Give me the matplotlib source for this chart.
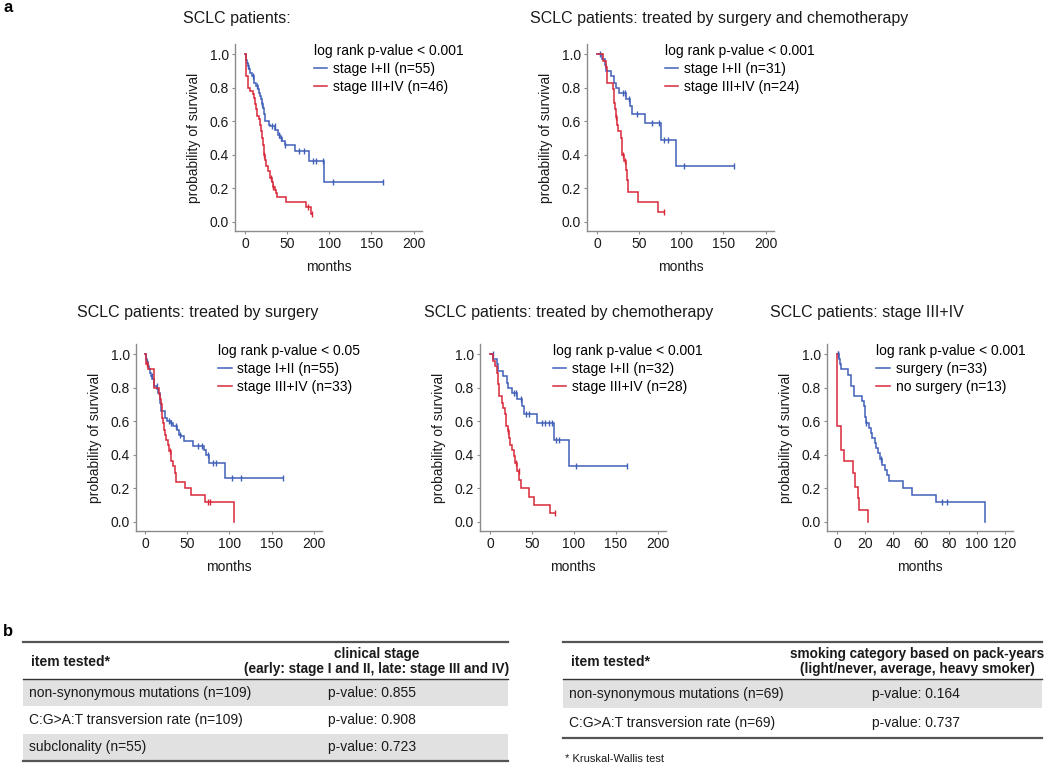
import numpy as np
from matplotlib import pyplot as plt
from matplotlib import rc
from matplotlib.patches import Rectangle

rc('font', family='Liberation Sans', size=9.5)

BLUE = '#4160b8'
RED = '#d8283a'
SPINE = '#8c8c8c'
TXT = '#1a1a1a'

# ---- panel a: Kaplan-Meier curves (event times, survival after step, censor times)
titles = ["SCLC patients:",
          "SCLC patients: treated by surgery and chemotherapy",
          "SCLC patients: treated by surgery",
          "SCLC patients: treated by chemotherapy",
          "SCLC patients: stage III+IV"]
pvals = ["log rank p-value < 0.001", "log rank p-value < 0.001", "log rank p-value < 0.05",
         "log rank p-value < 0.001", "log rank p-value < 0.001"]
labels_blue = ["stage I+II (n=55)", "stage I+II (n=31)", "stage I+II (n=55)",
               "stage I+II (n=32)", "surgery (n=33)"]
labels_red = ["stage III+IV (n=46)", "stage III+IV (n=24)", "stage III+IV (n=33)",
              "stage III+IV (n=28)", "no surgery (n=13)"]

p1_blue_t = [0.5, 1, 2, 3, 5, 6, 8, 10, 11, 13, 15, 17, 18, 19, 20, 21, 22, 24, 28, 30, 36, 39, 41, 44, 47, 59, 76, 94]
p1_blue_s = [0.98, 0.965, 0.945, 0.93, 0.91, 0.89, 0.87, 0.85, 0.83, 0.81, 0.79, 0.77, 0.75, 0.73, 0.70, 0.68,
             0.64, 0.60, 0.58, 0.57, 0.55, 0.52, 0.50, 0.48, 0.46, 0.42, 0.36, 0.24]
p1_blue_c = [4, 9, 14, 20, 32, 35, 40, 43, 47, 64, 70, 81, 84, 92, 104, 164]
p1_red_t = [0.5, 1, 3, 4, 6, 9, 10, 12, 13, 14, 16, 18, 19, 20, 21, 22, 24, 25, 27, 29, 30, 32, 33, 35, 37, 38,
            48, 72, 78]
p1_red_s = [0.96, 0.87, 0.85, 0.80, 0.78, 0.76, 0.74, 0.70, 0.67, 0.63, 0.61, 0.58, 0.54, 0.50, 0.46, 0.40, 0.37,
            0.33, 0.30, 0.28, 0.26, 0.24, 0.21, 0.19, 0.17, 0.15, 0.12, 0.09, 0.045]
p1_red_c = [22, 31, 33, 75, 79]

p2_blue_t = [6, 9, 11, 16, 20, 23, 26, 34, 39, 41, 57, 76, 94]
p2_blue_s = [0.97, 0.935, 0.90, 0.87, 0.83, 0.80, 0.77, 0.73, 0.69, 0.64, 0.59, 0.49, 0.33]
p2_blue_c = [3, 31, 33, 38, 47, 65, 74, 80, 84, 103, 163]
p2_red_t = [7, 10, 12, 19, 20, 21, 22, 24, 25, 28, 29, 30, 32, 34, 36, 37, 48, 72]
p2_red_s = [0.96, 0.92, 0.83, 0.79, 0.71, 0.67, 0.625, 0.58, 0.54, 0.50, 0.44, 0.40, 0.36, 0.31, 0.25, 0.18,
            0.12, 0.06]
p2_red_c = [23, 31, 33, 79]

p3_blue_t = [1, 2, 3, 4, 6, 7, 8, 10, 14, 15, 17, 18, 19, 23, 26, 30, 33, 38, 40, 42, 46, 57, 70, 72, 76, 95]
p3_blue_s = [0.97, 0.95, 0.93, 0.91, 0.89, 0.87, 0.85, 0.81, 0.79, 0.77, 0.73, 0.71, 0.66, 0.62, 0.60, 0.59,
             0.57, 0.55, 0.52, 0.51, 0.48, 0.45, 0.43, 0.40, 0.35, 0.26]
p3_blue_c = [2, 7.5, 13.5, 28, 31, 36, 41, 63, 67, 74, 81, 84, 103.5, 114, 163.5]
p3_red_t = [0.5, 1, 3, 10.5, 16, 18, 19, 20, 21, 22, 23, 25, 27, 28, 30, 31, 33, 35, 37, 47, 54, 71, 106]
p3_red_s = [0.97, 0.94, 0.91, 0.80, 0.76, 0.73, 0.70, 0.62, 0.59, 0.55, 0.52, 0.49, 0.46, 0.42, 0.39, 0.36,
            0.33, 0.29, 0.24, 0.20, 0.16, 0.12, 0.0]
p3_red_c = [1.5, 29.5, 74, 77]

p4_blue_t = [4, 8, 10, 15, 20, 22, 26, 32, 38, 40, 56, 76, 94]
p4_blue_s = [0.97, 0.94, 0.90, 0.87, 0.83, 0.80, 0.77, 0.73, 0.69, 0.64, 0.59, 0.49, 0.33]
p4_blue_c = [3, 29, 31.5, 37, 43, 46, 62, 66, 70, 74, 79, 82, 103, 163]
p4_red_t = [4, 6, 8.5, 10, 11, 14, 16, 18, 19, 21, 23, 24, 26, 28, 30, 32, 35, 37, 47, 53, 71]
p4_red_s = [0.96, 0.93, 0.89, 0.82, 0.75, 0.71, 0.68, 0.64, 0.57, 0.54, 0.50, 0.46, 0.43, 0.39, 0.35, 0.30,
            0.25, 0.20, 0.15, 0.10, 0.05]
p4_red_c = [22, 31, 34, 78]

p5_blue_t = [1.5, 2, 3, 8, 10, 12, 18, 19, 20, 21, 23, 24, 25, 27, 28, 29, 31, 32, 34, 36, 37, 47, 54, 71, 106]
p5_blue_s = [0.97, 0.94, 0.91, 0.875, 0.81, 0.75, 0.72, 0.69, 0.625, 0.59, 0.56, 0.53, 0.50, 0.47, 0.44, 0.41,
             0.375, 0.34, 0.31, 0.28, 0.245, 0.20, 0.16, 0.12, 0.0]
p5_blue_c = [0.5, 1, 21, 31.5, 75, 79]
p5_red_t = [0.3, 2.6, 4.8, 11.5, 12.9, 14.8, 15.8, 22]
p5_red_s = [0.57, 0.43, 0.36, 0.29, 0.21, 0.14, 0.07, 0.0]
p5_red_c = []

# ---- panel b tables
tab1_items = ["non-synonymous mutations (n=109)", "C:G>A:T transversion rate (n=109)", "subclonality (n=55)"]
tab1_p = [0.855, 0.908, 0.723]
tab1_head = "clinical stage\n(early: stage I and II, late: stage III and IV)"
tab2_items = ["non-synonymous mutations (n=69)", "C:G>A:T transversion rate (n=69)"]
tab2_p = [0.164, 0.737]
tab2_head = "smoking category based on pack-years\n(light/never, average, heavy smoker)"

W, H = 1050, 765
fig = plt.figure(figsize=(W / 100, H / 100), dpi=100)


def add_ax(l, t, r, b):
    return fig.add_axes([l / W, 1 - b / H, (r - l) / W, (b - t) / H])


def km(ax, t, s, cens, color):
    end = max([t[-1]] + list(cens))
    tt = np.concatenate([[0], t, [end]])
    ss = np.concatenate([[1.0], s, [s[-1]]])
    ax.step(tt, ss, where='post', color=color, lw=1.1, solid_joinstyle='miter')
    if len(cens):
        idx = np.searchsorted(tt, cens, side='right') - 1
        ax.plot(cens, ss[idx], ls='none', marker='|', ms=4, mew=1.0, color=color)


panels = [
    ((235, 44, 422, 231), (-12, 210), [0, 50, 100, 150, 200],
     (p1_blue_t, p1_blue_s, p1_blue_c), (p1_red_t, p1_red_s, p1_red_c), 183, 18, 0.42),
    ((587, 44, 774, 231), (-12, 210), [0, 50, 100, 150, 200],
     (p2_blue_t, p2_blue_s, p2_blue_c), (p2_red_t, p2_red_s, p2_red_c), 530, 18, 0.415),
    ((136, 344, 322, 531), (-11, 210), [0, 50, 100, 150, 200],
     (p3_blue_t, p3_blue_s, p3_blue_c), (p3_red_t, p3_red_s, p3_red_c), 77, 312, 0.44),
    ((480, 344, 666, 531), (-12, 210), [0, 50, 100, 150, 200],
     (p4_blue_t, p4_blue_s, p4_blue_c), (p4_red_t, p4_red_s, p4_red_c), 424, 312, 0.39),
    ((827, 344, 1013, 531), (-7.2, 126), [0, 20, 40, 60, 80, 100, 120],
     (p5_blue_t, p5_blue_s, p5_blue_c), (p5_red_t, p5_red_s, p5_red_c), 770, 312, 0.265),
]

for i, (box, xlim, xticks, blue, red, tx, ty, lx) in enumerate(panels):
    ax = add_ax(*box)
    km(ax, *blue, BLUE)
    km(ax, *red, RED)
    ax.set_xlim(*xlim)
    ax.set_ylim(-0.055, 1.06)
    ax.set_xticks(xticks)
    ax.set_yticks([0, 0.2, 0.4, 0.6, 0.8, 1.0])
    ax.set_yticklabels(["0.0", "0.2", "0.4", "0.6", "0.8", "1.0"])
    for side in ['top', 'right']:
        ax.spines[side].set_visible(False)
    for side in ['left', 'bottom']:
        ax.spines[side].set_color(SPINE)
        ax.spines[side].set_linewidth(1.0)
    ax.tick_params(length=2.5, width=0.8, color=SPINE, labelcolor=TXT, labelsize=10, pad=2)
    ax.set_xlabel("months", color=TXT, fontsize=10, labelpad=6)
    ax.set_ylabel("probability of survival", color=TXT, fontsize=10, labelpad=6)
    ax.plot([], [], color=BLUE, lw=1.1, label=labels_blue[i])
    ax.plot([], [], color=RED, lw=1.1, label=labels_red[i])
    ax.legend(title=pvals[i], loc='upper left', bbox_to_anchor=(lx, 1.0), frameon=False,
              handlelength=1.0, handletextpad=0.4, borderpad=0, borderaxespad=0,
              labelspacing=0.3, alignment='left', fontsize=10, title_fontsize=10)
    fig.text(tx / W, 1 - ty / H, titles[i], fontsize=11.5, color=TXT, ha='left', va='center')

fig.text(3 / W, 1 - 7 / H, "a", fontsize=12, fontweight='bold', ha='left', va='center')
fig.text(3 / W, 1 - 632 / H, "b", fontsize=12, fontweight='bold', ha='left', va='center')

# ---- tables drawn in a pixel-coordinate overlay
tab = fig.add_axes([0, 0, 1, 1], zorder=-1)
tab.set_xlim(0, W)
tab.set_ylim(H, 0)
tab.axis('off')


def draw_table(x0, x1, pcol, hcenter, items, ps, head, row_h):
    top, hdr = 642.3, 679
    for k, (item, p) in enumerate(zip(items, ps)):
        y0 = hdr + k * row_h
        if k % 2 == 0:
            tab.add_patch(Rectangle((x0, y0), x1 - x0, row_h, color='#e1e1e1', lw=0))
        tab.text(x0 + 6, y0 + row_h / 2, item, ha='left', va='center', fontsize=10, color=TXT)
        tab.text(pcol, y0 + row_h / 2, "p-value: %.3f" % p, ha='left', va='center', fontsize=10, color=TXT)
    bottom = hdr + len(items) * row_h
    tab.plot([x0, x1], [top, top], color='#555555', lw=1.6)
    tab.plot([x0, x1], [hdr, hdr], color='#333333', lw=1.0)
    tab.plot([x0, x1], [bottom, bottom], color='#555555', lw=1.6)
    tab.text(x0 + 8, (top + hdr) / 2 + 1, "item tested*", ha='left', va='center', fontsize=10,
             fontweight='bold', color=TXT)
    tab.text(hcenter, (top + hdr) / 2 + 1, head, ha='center', va='center', fontsize=9.8,
             fontweight='bold', color=TXT, linespacing=1.15, multialignment='center')


draw_table(23, 508, 328, 377, tab1_items, tab1_p, tab1_head, 27.3)
draw_table(563, 1042, 872, 917, tab2_items, tab2_p, tab2_head, 29.3)
tab.text(565, 759, "* Kruskal-Wallis test", ha='left', va='center', fontsize=8, color=TXT)

fig.savefig("out.png", dpi=100)
